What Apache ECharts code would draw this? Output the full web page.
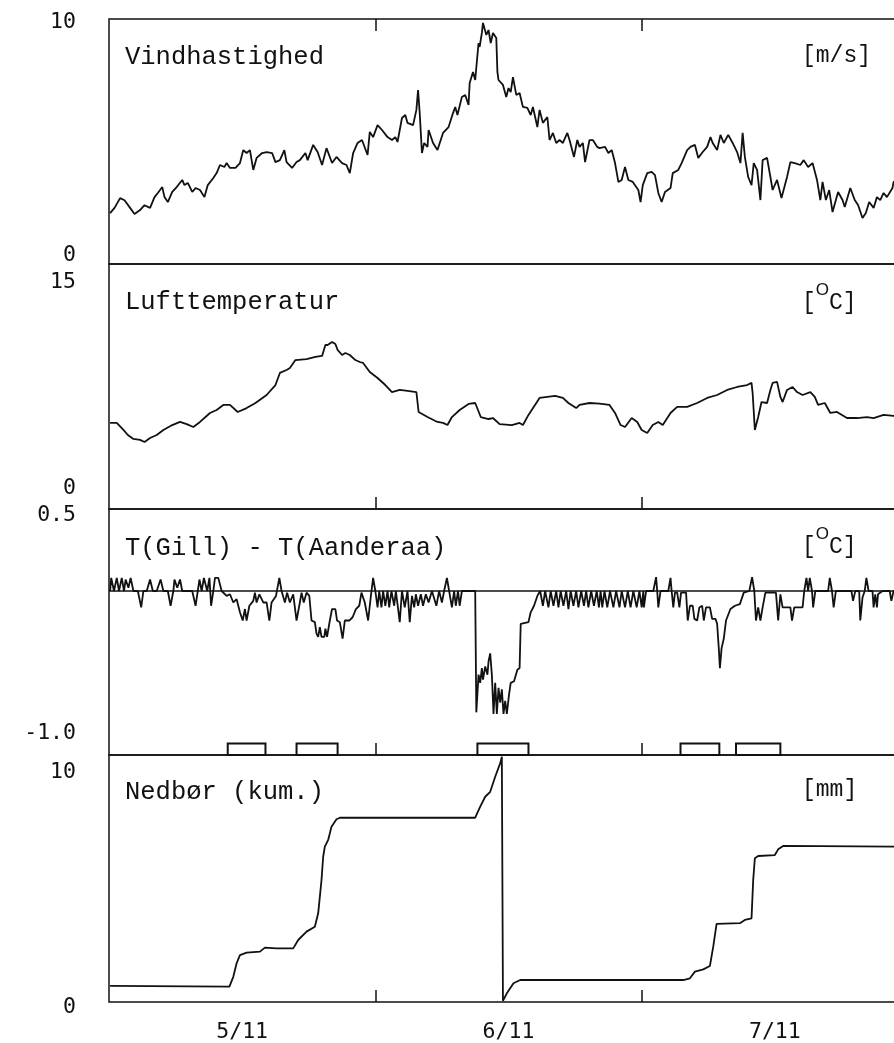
<!DOCTYPE html>
<html>
<head>
<meta charset="utf-8">
<script src="https://cdn.jsdelivr.net/npm/echarts@6/dist/echarts.min.js"></script>
<style>
  html, body { margin: 0; padding: 0; background: #fff; }
  #chart { width: 894px; height: 1043px; }
</style>
</head>
<body>
<div id="chart"></div>
<script>
// time axis in hours from 5/11 00:00
const dayTicks = [24, 48];
const dayLabelHours = [12, 36, 60];
const dayLabels = ['5/11', '6/11', '7/11'];

// Vindhastighed [m/s]  (hour, value)
const vind = [
  [0.1,2.08],[0.5,2.29],[1.0,2.69],[1.4,2.6],[1.9,2.29],[2.3,2.04],[2.8,2.2],[3.2,2.4],[3.7,2.29],[4.1,2.73],
  [4.4,2.9],[4.8,3.14],[5.0,2.73],[5.3,2.53],[5.7,2.94],[6.1,3.14],[6.6,3.43],[6.8,3.22],[7.1,3.31],[7.5,2.94],
  [7.8,3.1],[8.2,3.02],[8.6,2.73],[8.9,3.22],[9.4,3.51],[9.7,3.71],[10.0,4.04],[10.4,3.96],[10.6,4.12],[10.9,3.92],
  [11.4,3.92],[11.8,4.12],[12.1,4.65],[12.4,4.53],[12.7,4.65],[13.0,3.84],[13.3,4.33],[13.8,4.53],[14.2,4.57],[14.7,4.53],
  [15.0,4.16],[15.4,4.24],[15.8,4.65],[16.0,4.16],[16.5,3.92],[16.9,4.16],[17.2,4.24],[17.7,4.53],[17.9,4.24],[18.4,4.86],
  [18.8,4.57],[19.2,4.04],[19.6,4.73],[20.1,4.12],[20.5,4.37],[21.0,4.12],[21.4,4.04],[21.7,3.71],[22.0,4.53],[22.4,4.94],
  [22.8,5.06],[23.3,4.45],[23.5,5.39],[23.8,5.18],[24.2,5.67],[24.6,5.47],[25.1,5.18],[25.5,5.06],[25.8,5.18],[26.0,4.98],
  [26.4,5.96],[26.7,6.08],[26.9,5.76],[27.4,5.67],[27.7,6.29],[27.85,7.1],[28.0,6.16],[28.2,4.53],[28.4,4.94],[28.7,4.78],
  [28.8,5.47],[29.2,4.94],[29.6,4.65],[30.1,5.35],[30.6,5.59],[31.0,6.16],[31.2,6.41],[31.4,6.08],[31.8,6.82],[32.1,6.9],
  [32.4,6.49],[32.5,7.39],[32.8,7.84],[33.0,7.51],[33.3,9.02],[33.4,8.86],[33.6,9.43],[33.7,9.84],[34.0,9.35],[34.2,9.55],
  [34.4,9.02],[34.6,9.43],[34.9,9.22],[35.0,7.84],[35.1,7.51],[35.5,7.31],[35.8,6.82],[36.0,7.18],[36.2,7.02],[36.4,7.63],
  [36.7,6.9],[37.0,6.98],[37.3,6.41],[37.7,6.37],[38.0,6.08],[38.2,6.41],[38.6,5.59],[38.8,6.29],[39.1,5.76],[39.5,6.0],
  [39.7,5.06],[40.0,5.35],[40.3,4.94],[40.6,5.06],[40.9,4.94],[41.3,5.35],[41.5,5.06],[41.9,4.37],[42.2,5.06],[42.4,4.78],
  [42.7,4.94],[42.9,4.16],[43.3,5.06],[43.6,5.06],[44.0,4.78],[44.2,4.73],[44.7,4.78],[45.0,4.53],[45.3,4.65],[45.6,4.12],
  [45.9,3.35],[46.2,3.43],[46.5,3.96],[46.8,3.43],[47.2,3.35],[47.7,3.02],[47.9,2.53],[48.1,3.22],[48.5,3.71],[48.9,3.76],
  [49.2,3.63],[49.5,2.9],[49.8,2.53],[50.1,2.94],[50.6,3.1],[50.8,3.71],[51.3,3.84],[51.6,4.12],[52.1,4.65],[52.4,4.78],
  [52.8,4.86],[53.1,4.33],[53.5,4.57],[53.9,4.78],[54.2,5.18],[54.4,4.94],[54.8,4.65],[55.1,5.27],[55.4,4.94],[55.8,5.27],
  [56.2,4.94],[56.6,4.57],[56.9,4.12],[57.1,5.35],[57.3,4.37],[57.6,3.55],[57.9,3.22],[58.1,4.12],[58.4,3.84],[58.7,2.61],
  [58.9,4.24],[59.3,4.33],[59.6,3.55],[59.8,3.02],[60.2,3.43],[60.6,2.69],[61.1,3.55],[61.4,4.16],[61.8,4.12],[62.3,4.04],
  [62.6,4.24],[63.0,3.96],[63.4,4.12],[63.8,3.43],[64.1,2.61],[64.3,3.35],[64.6,2.61],[64.9,3.02],[65.2,2.12],[65.7,2.94],
  [66.1,2.61],[66.3,2.33],[66.8,3.1],[67.2,2.61],[67.5,2.41],[67.9,1.88],[68.2,2.08],[68.5,2.53],[68.9,2.29],[69.2,2.73],
  [69.5,2.61],[69.8,2.9],[70.1,2.73],[70.6,3.1],[70.7,3.35],[71.3,3.5]
];

// Lufttemperatur [oC]
const luft = [
  [0.1,5.27],[0.7,5.27],[1.3,4.84],[1.7,4.53],[2.2,4.29],[2.8,4.23],[3.2,4.1],[3.7,4.35],[4.3,4.53],[4.9,4.84],
  [5.7,5.14],[6.4,5.33],[7.0,5.2],[7.6,5.02],[8.2,5.33],[9.1,5.88],[9.7,6.06],[10.3,6.37],[10.9,6.37],[11.6,5.94],
  [12.4,6.18],[13.2,6.49],[14.2,6.98],[15.0,7.59],[15.4,8.33],[16.0,8.51],[16.3,8.63],[16.8,9.12],[17.8,9.18],[18.6,9.31],
  [19.2,9.37],[19.5,10.04],[19.7,10.04],[20.1,10.23],[20.4,10.1],[20.6,9.74],[21.0,9.43],[21.3,9.55],[21.7,9.43],[22.2,9.12],
  [22.6,9.0],[22.9,8.94],[23.5,8.39],[24.2,8.02],[24.9,7.59],[25.5,7.16],[26.2,7.29],[26.9,7.23],[27.7,7.16],[27.9,5.94],
  [28.7,5.63],[29.6,5.33],[30.1,5.27],[30.5,5.14],[30.9,5.63],[31.6,6.06],[32.4,6.43],[33.0,6.49],[33.5,5.63],[34.2,5.51],
  [34.6,5.57],[35.2,5.2],[36.3,5.14],[37.0,5.27],[37.3,5.14],[37.8,5.76],[38.8,6.8],[39.5,6.86],[40.2,6.92],[40.9,6.8],
  [41.4,6.49],[42.1,6.18],[42.4,6.37],[43.3,6.49],[44.2,6.45],[45.1,6.37],[45.6,5.88],[46.1,5.14],[46.5,5.02],[47.1,5.57],
  [47.6,5.33],[48.0,4.84],[48.5,4.65],[49.0,5.14],[49.5,5.33],[49.9,5.14],[50.6,5.88],[51.2,6.25],[52.1,6.25],[53.0,6.49],
  [53.9,6.8],[54.8,6.98],[55.7,7.29],[56.6,7.47],[57.5,7.59],[57.9,7.72],[58.0,7.1],[58.2,4.84],[58.5,5.63],[58.8,6.55],
  [59.3,6.49],[59.6,7.29],[59.8,7.72],[60.2,7.78],[60.5,6.86],[60.7,6.55],[61.1,7.29],[61.6,7.47],[62.0,7.16],[62.5,6.98],
  [63.2,7.16],[63.6,6.86],[63.9,6.37],[64.5,6.49],[65.0,5.88],[65.6,5.94],[66.5,5.57],[67.4,5.57],[68.3,5.63],[68.9,5.57],
  [69.8,5.76],[70.7,5.7],[71.3,5.72]
];

// T(Gill) - T(Aanderaa) [oC]
const diff = [
  [0.1,0],[0.2,0.08],[0.45,0],[0.7,0.08],[0.9,0],[1.15,0.08],[1.35,0],[1.5,0.07],[1.75,0.02],[1.95,0.08],
  [2.2,0],[2.6,0],[2.9,-0.1],[3.1,0],[3.4,0],[3.7,0.07],[3.95,0],[4.3,0],[4.65,0.07],[4.9,0],
  [5.3,0],[5.55,-0.09],[5.8,0],[5.9,0.07],[6.15,0.02],[6.4,0.07],[6.6,0],[7.5,0],[7.8,-0.09],[8.0,0],
  [8.15,0.07],[8.35,0],[8.55,0.08],[8.85,0],[9.05,0.08],[9.2,-0.09],[9.4,0],[9.55,0.08],[9.85,0.08],[10.15,0],
  [10.6,-0.03],[10.9,-0.02],[11.2,-0.07],[11.5,-0.05],[11.8,-0.13],[12.05,-0.18],[12.25,-0.11],[12.4,-0.18],[12.65,-0.09],[13.0,-0.06],
  [13.15,-0.01],[13.3,-0.07],[13.55,-0.02],[13.9,-0.07],[14.2,-0.07],[14.45,-0.18],[14.65,-0.07],[15.05,-0.03],[15.35,0.08],[15.55,0],
  [15.85,-0.07],[16.05,-0.01],[16.3,-0.07],[16.6,-0.02],[16.9,-0.18],[17.2,-0.07],[17.35,-0.01],[17.55,-0.07],[17.8,-0.01],[18.05,-0.03],
  [18.25,-0.18],[18.55,-0.19],[18.7,-0.26],[18.85,-0.28],[19.0,-0.22],[19.15,-0.28],[19.4,-0.28],[19.5,-0.23],[19.65,-0.28],[19.9,-0.18],
  [20.1,-0.11],[20.4,-0.11],[20.55,-0.18],[20.8,-0.19],[21.05,-0.29],[21.25,-0.18],[21.65,-0.18],[21.95,-0.16],[22.25,-0.11],[22.55,-0.09],
  [22.75,-0.01],[23.05,-0.07],[23.35,-0.18],[23.6,-0.03],[23.8,0.08],[24.0,0],[24.2,-0.1],[24.35,0],[24.55,-0.1],[24.7,0],
  [24.9,-0.09],[25.1,0],[25.25,-0.1],[25.45,0],[25.7,-0.09],[25.85,0],[26.2,-0.19],[26.4,0],[26.65,-0.1],[26.9,0],
  [27.1,-0.19],[27.3,-0.03],[27.5,-0.1],[27.65,-0.02],[27.85,-0.09],[28.1,-0.02],[28.3,-0.09],[28.55,-0.02],[28.8,-0.07],[29.1,0],
  [29.5,-0.09],[29.75,0],[30.0,-0.07],[30.2,0],[30.45,0.08],[30.65,0],[30.9,-0.1],[31.1,0],[31.25,-0.09],[31.45,0],
  [31.6,-0.09],[31.8,0],[33.0,0],[33.1,-0.74],[33.3,-0.51],[33.45,-0.56],[33.6,-0.47],[33.7,-0.54],[33.9,-0.46],[34.1,-0.51],
  [34.2,-0.43],[34.35,-0.38],[34.5,-0.51],[34.65,-0.75],[34.8,-0.56],[34.95,-0.75],[35.1,-0.59],[35.25,-0.68],[35.4,-0.6],[35.55,-0.75],
  [35.7,-0.67],[35.85,-0.75],[36.05,-0.63],[36.2,-0.56],[36.5,-0.55],[36.8,-0.48],[37.0,-0.47],[37.1,-0.2],[37.8,-0.19],[38.0,-0.13],
  [38.3,-0.09],[38.6,-0.03],[38.85,0],[39.1,-0.09],[39.3,0],[39.6,-0.1],[39.8,0],[40.05,-0.09],[40.3,0],[40.5,-0.1],
  [40.7,0],[40.95,-0.09],[41.2,0],[41.4,-0.11],[41.6,0],[41.85,-0.09],[42.1,0],[42.3,-0.1],[42.55,0],[42.8,-0.09],
  [43.0,0],[43.2,-0.1],[43.45,0],[43.7,-0.09],[43.95,0],[44.15,-0.1],[44.3,0],[44.45,-0.1],[44.65,0],[44.9,-0.1],
  [45.15,0],[45.45,-0.1],[45.7,0],[46.0,-0.1],[46.2,0],[46.5,-0.1],[46.75,0],[47.0,-0.1],[47.25,0],[47.55,-0.1],
  [47.8,0],[48.0,-0.1],[48.15,0],[48.2,-0.1],[48.4,0],[49.05,0],[49.3,0.085],[49.4,0],[49.5,-0.1],[49.7,0],
  [50.4,0],[50.6,0.08],[50.7,0],[50.85,-0.1],[51.0,-0.01],[51.2,-0.01],[51.4,-0.1],[51.55,-0.01],[52.0,-0.01],[52.15,-0.18],
  [52.35,-0.09],[52.6,-0.09],[52.75,-0.17],[53.0,-0.18],[53.2,-0.1],[53.45,-0.09],[53.6,-0.18],[53.8,-0.1],[54.15,-0.1],[54.35,-0.17],
  [54.65,-0.17],[54.8,-0.2],[54.95,-0.35],[55.05,-0.47],[55.2,-0.35],[55.4,-0.29],[55.6,-0.18],[56.0,-0.11],[56.4,-0.09],[56.85,-0.08],
  [57.2,-0.01],[57.7,0],[57.95,0.085],[58.15,0],[58.3,-0.18],[58.5,-0.1],[58.7,-0.18],[58.9,-0.1],[59.15,-0.01],[60.1,-0.01],
  [60.3,-0.18],[60.5,-0.02],[60.7,-0.1],[61.4,-0.1],[61.55,-0.18],[61.75,-0.1],[62.5,-0.1],[62.65,0],[62.85,0.08],[63.0,0],
  [63.15,0.08],[63.35,0],[63.45,-0.1],[63.65,0],[64.8,0],[64.95,0.08],[65.15,0],[65.3,-0.1],[65.5,0],[66.9,0],
  [67.05,-0.06],[67.25,0],[67.6,0],[67.7,-0.18],[67.9,-0.04],[68.1,0],[68.25,0.08],[68.45,0],[68.8,0],[68.9,-0.1],
  [69.05,-0.02],[69.2,-0.1],[69.3,-0.02],[69.7,0],[70.35,0],[70.5,-0.06],[70.7,0],[71.3,0]
];

// rain periods (start hour, end hour), drawn as boxes on the -1.0 line
const rainPeriods = [[10.7,14.1],[16.9,20.6],[33.2,37.8],[51.5,55.0],[56.5,60.5]];
const rainBoxTop = -0.93;

// Nedbør (kum.) [mm]
const nedbor = [
  [0.1,0.65],[10.85,0.62],[11.2,1.02],[11.5,1.57],[11.8,1.9],[12.4,2.0],[13.6,2.04],[14.05,2.2],[15.1,2.17],[16.6,2.17],
  [17.05,2.51],[17.2,2.55],[17.8,2.85],[18.55,3.05],[18.85,3.59],[19.15,4.94],[19.3,5.88],[19.45,6.29],[19.75,6.56],[20.05,7.1],
  [20.5,7.4],[20.8,7.46],[33.0,7.46],[33.45,7.91],[33.9,8.31],[34.35,8.51],[34.8,9.12],[35.25,9.66],[35.4,9.93],[35.45,9.9],
  [35.5,0.05],[35.85,0.35],[36.45,0.76],[37.05,0.89],[44.25,0.89],[51.75,0.89],[52.35,0.96],[52.8,1.23],[53.55,1.32],[54.15,1.46],
  [54.45,2.24],[54.75,3.16],[56.85,3.19],[57.3,3.32],[57.9,3.39],[58.05,4.94],[58.2,5.82],[58.5,5.91],[60.0,5.95],[60.3,6.18],
  [60.75,6.32],[70.75,6.29],[71.3,6.29]
];

const panelTitles = ['Vindhastighed', 'Lufttemperatur', 'T(Gill) - T(Aanderaa)', 'Nedbør (kum.)'];
const panelUnits = ['[m/s]', '[{s|O}C]', '[{s|O}C]', '[mm]'];
const yRanges = [[0, 10], [0, 15], [-1.0, 0.5], [0, 10]];

const ink = '#111';
const mono = '"Liberation Mono", "DejaVu Sans Mono", monospace';
const numFont = '"DejaVu Sans Mono", monospace';

const gridTops = [19, 264, 509, 755];
const gridHeights = [245, 245, 246, 247];
// label nudges: [top label pad-top, bottom label pad-top, bottom label pad-bottom]
const labelPads = [[6, 0, 18], [36, 0, 42], [12, 0, 44], [34, 10, 0]];
const titleTops = [44, 289, 535, 779];
const unitTops = [44, 282, 526, 778];

const chart = echarts.init(document.getElementById('chart'), null, { renderer: 'canvas' });

// plot runs past the right edge of the page (to the end of 7/11)
const grids = gridTops.map((t, i) => ({
  left: 109, width: 799, top: t, height: gridHeights[i],
  containLabel: false, outerBoundsMode: 'none',
  show: true, borderColor: ink, borderWidth: 1.5, backgroundColor: 'transparent'
}));

const xAxes = gridTops.map((t, i) => ({
  type: 'value', gridIndex: i, min: 0, max: 72,
  position: i === 0 ? 'top' : 'bottom',
  axisLine: { show: false, onZero: false },
  splitLine: { show: false },
  axisTick: { show: true, inside: true, length: 12, customValues: dayTicks, lineStyle: { color: ink, width: 1.5 } },
  axisLabel: {
    show: i === 3, customValues: dayLabelHours, margin: 19,
    fontFamily: numFont, fontSize: 21.5, color: ink,
    formatter: (v) => dayLabels[dayLabelHours.indexOf(v)] || ''
  }
}));

const yAxes = yRanges.map(([lo, hi], i) => {
  const p = labelPads[i];
  const fmt = (v) => (i === 2 ? v.toFixed(1) : String(v));
  return {
    type: 'value', gridIndex: i, min: lo, max: hi, interval: hi - lo,
    axisLine: { show: false, onZero: false }, axisTick: { show: false }, splitLine: { show: false },
    axisLabel: {
      margin: 33, fontFamily: numFont, fontSize: 21.5, color: ink,
      formatter: (v) => (v === hi ? '{hi|' + fmt(v) + '}' : '{lo|' + fmt(v) + '}'),
      rich: {
        hi: { fontFamily: numFont, fontSize: 21.5, color: ink, padding: [p[0], 0, 0, 0] },
        lo: { fontFamily: numFont, fontSize: 21.5, color: ink, padding: [p[1], 0, p[2], 0] }
      }
    }
  };
});

const titles = [];
panelTitles.forEach((txt, i) => {
  titles.push({
    text: txt, left: 125, top: titleTops[i], padding: 0,
    textStyle: { fontFamily: mono, fontSize: 25.5, fontWeight: 'normal', color: ink }
  });
  titles.push({
    text: panelUnits[i], left: 802, top: unitTops[i], padding: 0,
    textStyle: {
      fontFamily: mono, fontSize: 23, fontWeight: 'normal', color: ink,
      rich: { s: { fontFamily: '"Liberation Sans", sans-serif', fontSize: 17, color: ink, padding: [0, 0, 24, 0] } }
    }
  });
});

const lineSeries = (data, i, extra) => Object.assign({
  type: 'line', data: data, xAxisIndex: i, yAxisIndex: i,
  symbol: 'none', showSymbol: false, silent: true,
  lineStyle: { color: ink, width: 1.8 }
}, extra || {});

chart.setOption({
  animation: false,
  backgroundColor: '#fff',
  title: titles,
  grid: grids,
  xAxis: xAxes,
  yAxis: yAxes,
  series: [
    lineSeries(vind, 0),
    lineSeries(luft, 1),
    lineSeries(diff, 2, {
      markLine: {
        silent: true, symbol: 'none', label: { show: false },
        lineStyle: { color: ink, width: 1.5, type: 'solid' },
        data: [{ yAxis: 0 }]
      },
      markArea: {
        silent: true,
        itemStyle: { color: 'rgba(0,0,0,0)', borderColor: ink, borderWidth: 2 },
        data: rainPeriods.map(([a, b]) => [{ xAxis: a, yAxis: -1.0 }, { xAxis: b, yAxis: rainBoxTop }])
      }
    }),
    lineSeries(nedbor, 3)
  ]
});
</script>
</body>
</html>
